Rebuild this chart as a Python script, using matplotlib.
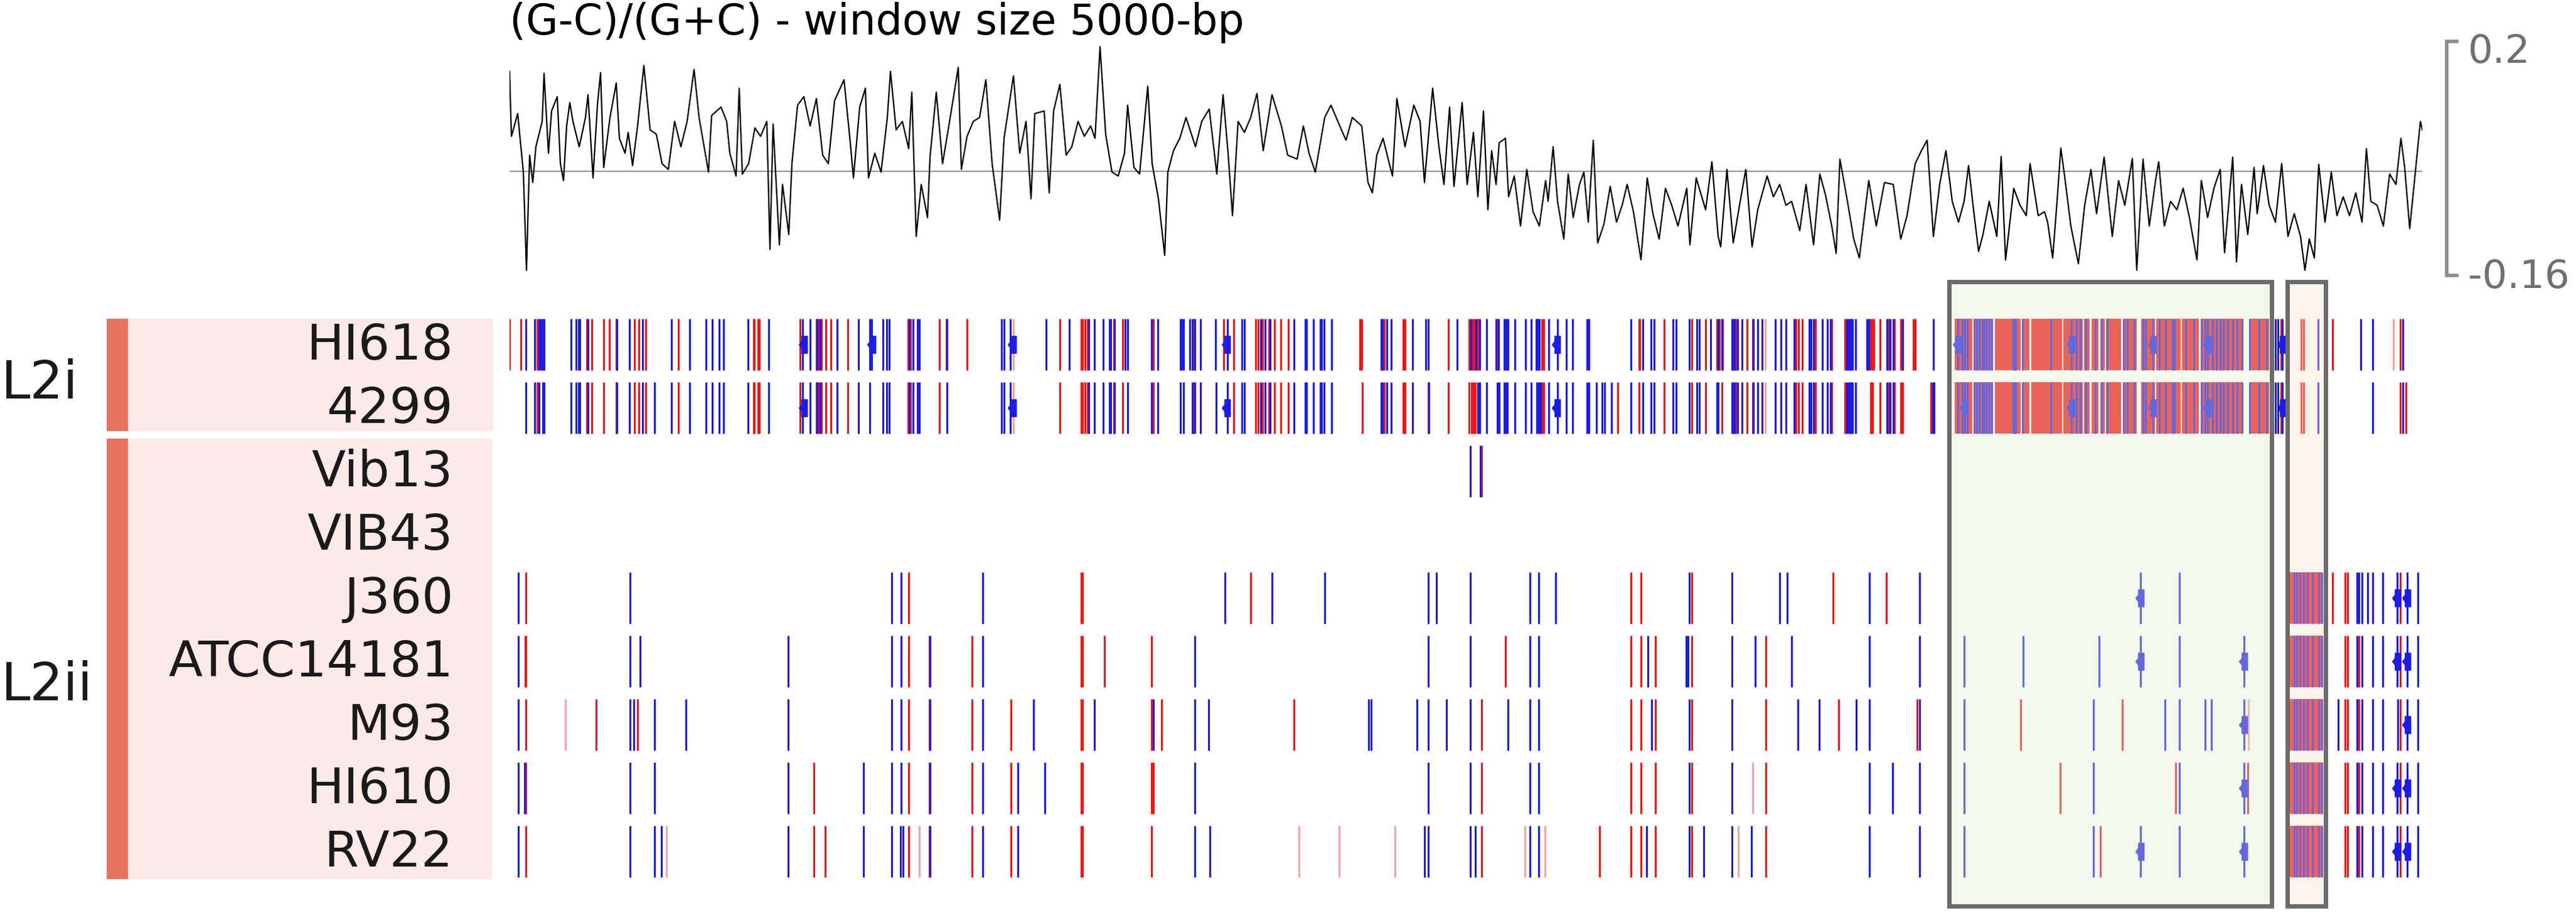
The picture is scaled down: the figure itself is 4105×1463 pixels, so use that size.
import matplotlib
matplotlib.use("Agg")
import matplotlib.pyplot as plt
from matplotlib.patches import Rectangle

# positions along the chromosome, arbitrary kb-like units (0 .. GENOME_LEN)
GENOME_LEN = 3048

# (G-C)/(G+C) skew
skew_pos = [0, 3, 13, 22, 27, 32, 37, 42, 52, 55, 62, 67, 76, 81, 86, 91, 96, 101, 111, 121,
            125, 133, 140, 145, 150, 160, 170, 175, 184, 189, 196, 204, 214, 224, 234, 243, 253, 263, 273, 283,
            294, 302, 317, 322, 337, 346, 351, 361, 366, 371, 381, 391, 400, 410, 415, 420, 430, 435, 445, 450,
            459, 469, 479, 489, 499, 508, 518, 533, 543, 548, 558, 567, 572, 582, 592, 602, 607, 616, 626, 636,
            641, 648, 656, 666, 670, 680, 690, 700, 715, 720, 729, 739, 749, 759, 769, 781, 788, 803, 813, 823,
            831, 837, 852, 860, 867, 877, 887, 896, 906, 916, 926, 933, 941, 950, 960, 970, 980, 985, 995, 1004,
            1017, 1024, 1034, 1044, 1049, 1058, 1068, 1078, 1093, 1103, 1115, 1127, 1137, 1145, 1152, 1161, 1171, 1181, 1191, 1201,
            1215, 1230, 1240, 1255, 1265, 1274, 1284, 1299, 1309, 1323, 1333, 1343, 1358, 1368, 1375, 1382, 1392, 1402, 1407, 1414,
            1427, 1441, 1451, 1458, 1471, 1481, 1489, 1498, 1505,
            1518, 1526, 1536, 1543, 1552, 1559, 1565, 1572, 1577, 1587, 1592, 1601, 1611, 1621, 1631, 1641, 1651, 1655, 1663, 1670,
            1680, 1687, 1695, 1705, 1712, 1719, 1727, 1734, 1744, 1754, 1764, 1773, 1781, 1791, 1803, 1813, 1822, 1832, 1842, 1852,
            1862, 1876, 1881, 1891, 1906, 1916, 1926, 1930, 1940, 1950, 1960, 1970, 1980, 1989, 2004, 2014, 2024, 2034, 2043, 2056,
            2066, 2078, 2088, 2097, 2107, 2114, 2120, 2132, 2142, 2151, 2166, 2178, 2191, 2205, 2217, 2227, 2240, 2250, 2259, 2269,
            2279, 2289, 2299, 2309, 2318, 2325, 2333, 2341, 2348, 2358, 2370, 2377, 2384, 2397, 2407, 2417, 2423, 2436, 2446, 2451,
            2459, 2466, 2472, 2478, 2488, 2500, 2510, 2520, 2529, 2541, 2554, 2564, 2574, 2586, 2593, 2603, 2613, 2623, 2628, 2637,
            2647, 2657, 2667, 2677, 2689, 2696, 2706, 2716, 2726, 2733, 2746, 2752, 2760, 2770, 2780, 2785, 2795, 2804, 2814, 2824,
            2834, 2844, 2854, 2861, 2868, 2876, 2883, 2893, 2903, 2912, 2922, 2932, 2942, 2952, 2959, 2966, 2976, 2986, 2996, 3006,
            3014, 3020, 3028, 3035, 3045, 3048]
skew_val = [0.154, 0.054, 0.089, -0.001, -0.152, 0.025, -0.017, 0.038, 0.077, 0.151,
            0.028, 0.093, 0.115, 0.012, -0.014, 0.070, 0.106, 0.077, 0.038, 0.083,
            0.118, -0.010, 0.102, 0.152, 0.006, 0.083, 0.136, 0.051, 0.028, 0.060,
            0.009, 0.070, 0.163, 0.064, 0.057, 0.012, 0.003, 0.077, 0.038, 0.077,
            0.157, 0.083, -0.001, 0.086, 0.099, 0.077, 0.028, -0.007, 0.128, -0.004,
            0.012, 0.067, 0.054, 0.077, -0.120, 0.073, -0.113, -0.020, -0.097, 0.012,
            0.102, 0.115, 0.070, 0.112, 0.025, 0.012, 0.109, 0.141, 0.044, -0.010,
            0.099, 0.128, -0.010, 0.028, -0.001, 0.083, 0.154, 0.064, 0.077, 0.035,
            0.122, -0.100, -0.020, -0.071, 0.022, 0.122, 0.012, 0.070, 0.160, 0.003,
            0.054, 0.077, 0.083, 0.141, 0.012, -0.075, 0.051, 0.147, 0.028, 0.077,
            -0.042, 0.089, 0.093, -0.033, 0.093, 0.134, 0.025, 0.038, 0.077, 0.054,
            0.070, 0.051, 0.192, 0.057, -0.001, -0.007, 0.028, 0.102, 0.006, -0.004,
            0.131, 0.012, -0.042, -0.129, -0.001, 0.032, 0.051, 0.083, 0.038, 0.077,
            0.096, -0.004, 0.118, 0.028, -0.068, 0.077, 0.060, 0.083, 0.120, 0.032,
            0.118, 0.070, 0.025, 0.019, 0.070, 0.028, -0.001, 0.083, 0.102, 0.070,
            0.048, 0.083, 0.070, -0.017, -0.033, 0.025, 0.051, 0.012, -0.007, 0.112,
            0.038, 0.102, 0.077, -0.017, 0.128, 0.038, -0.020, 0.099, -0.023,
            0.106, -0.020, 0.060, -0.039, 0.093, -0.059, 0.032, -0.020, 0.044, 0.051,
            -0.039, -0.007, -0.084, 0.003, -0.062, -0.084, -0.014, -0.046, 0.038, -0.046,
            -0.104, -0.004, -0.071, -0.020, -0.001, -0.078, 0.048, -0.110, -0.081, -0.023,
            -0.078, -0.052, -0.020, -0.062, -0.136, -0.010, -0.065, -0.104, -0.026, -0.052,
            -0.084, -0.026, -0.113, -0.010, -0.059, 0.015, -0.100, -0.116, 0.003, -0.110,
            -0.052, 0.003, -0.116, -0.059, -0.007, -0.039, -0.020, -0.052, -0.046, -0.091,
            -0.020, -0.113, -0.004, -0.036, -0.084, -0.126, 0.019, -0.046, -0.104, -0.133,
            -0.014, -0.084, -0.017, -0.020, -0.104, -0.068, 0.012, 0.032, 0.048, -0.100,
            -0.020, 0.032, -0.046, -0.078, -0.046, 0.009, -0.059, -0.123, -0.097, -0.046,
            -0.100, 0.023, -0.136, -0.026, -0.052, -0.068, 0.012, -0.068, -0.062, -0.078,
            -0.133, -0.046, 0.036, -0.007, -0.084, -0.142, -0.052, 0.003, -0.065, 0.022,
            -0.100, -0.014, -0.052, 0.020, -0.152, 0.019, -0.084, -0.014, 0.015, -0.084,
            -0.046, -0.059, -0.026, -0.071, -0.136, -0.014, -0.071, -0.026, 0.003, -0.125,
            0.022, -0.139, -0.020, -0.097, 0.006, -0.065, 0.009, -0.052, -0.078, 0.012,
            -0.100, -0.065, -0.100, -0.152, -0.104, -0.133, 0.011, -0.078, -0.001, -0.068,
            -0.039, -0.068, -0.033, -0.078, 0.035, -0.046, -0.052, -0.084, -0.004, -0.020,
            0.051, 0.006, -0.088, -0.020, 0.077, 0.064]

strains = ['HI618', '4299', 'Vib13', 'VIB43', 'J360', 'ATCC14181', 'M93', 'HI610', 'RV22']
groups = [('L2i', 0, 1), ('L2ii', 2, 8)]

# highlighted regions (start, end)
green_region = (2294, 2808)
orange_region = (2833, 2894)

# dense red stretch shared by the two L2i strains inside the green region
l2i_dense_spans = [(2303, 2331), (2333, 2364), (2367, 2408), (2410, 2422), (2425, 2474), (2476, 2507),
                   (2509, 2518), (2521, 2532), (2535, 2542), (2544, 2568), (2571, 2593), (2600, 2622),
                   (2624, 2663), (2665, 2692), (2695, 2762), (2772, 2804)]
l2i_dense_blue = [2295, 2315, 2323, 2334, 2338, 2342, 2347, 2350, 2354, 2358, 2362, 2396, 2398, 2400,
                  2411, 2456, 2489, 2497, 2503, 2512, 2527, 2537, 2546, 2572, 2578, 2589, 2603, 2607,
                  2619, 2629, 2639, 2650, 2653, 2671, 2684, 2696, 2702, 2706, 2714, 2720, 2726, 2731,
                  2738, 2746, 2753, 2761, 2773, 2788, 2800, 2814, 2818, 2825]
# mixed block of the L2ii strains inside the orange region
l2ii_block_spans = [(2834, 2889)]
l2ii_block_blue = [2835, 2844, 2848, 2853, 2859, 2865, 2873, 2883, 2888]

red_ticks = {
    'HI618': [0, 18, 44, 123, 131, 150, 159, 170, 199, 206, 217, 269, 389, 390, 396, 398, 463, 489, 492,
              497, 504, 512, 539, 635, 639, 685, 696, 729, 877, 911, 913, 917, 921, 963, 977, 1026, 1090,
              1138, 1154, 1189, 1193, 1200, 1210, 1219, 1229, 1241, 1355, 1358, 1394, 1424, 1427, 1496,
              1529, 1535, 1538, 1543, 1574, 1638, 1645, 1648, 1800, 1801, 1840, 1884, 1906, 1924, 1928,
              1933, 1954, 1972, 1981, 2050, 2054, 2060, 2081, 2107, 2128, 2137, 2169, 2172, 2174, 2184,
              2197, 2207, 2217, 2237, 2240, 2823, 2855, 2859, 2905, 3013],
    '4299': [44, 123, 131, 150, 170, 199, 206, 217, 269, 389, 390, 396, 398, 463, 489, 492, 497, 504, 512,
             539, 635, 639, 685, 877, 911, 913, 917, 921, 963, 977, 1026, 1090, 1154, 1189, 1193, 1200,
             1210, 1219, 1229, 1241, 1359, 1394, 1424, 1427, 1464, 1496, 1529, 1533, 1536, 1539, 1645,
             1648, 1766, 1800, 1840, 1884, 1906, 1932, 1954, 1972, 1981, 2050, 2054, 2060, 2081, 2107,
             2128, 2137, 2169, 2170, 2172, 2184, 2197, 2207, 2217, 2220, 2265, 2823, 2855, 2859, 3013, 3022],
    'Vib13': [1549],
    'VIB43': [],
    'J360': [26, 636, 911, 913, 1181, 1787, 1803, 1884, 2109, 2194, 2905, 2925, 2929, 3013],
    'ATCC14181': [25, 26, 636, 669, 737, 911, 913, 948, 1023, 1587, 1787, 1803, 1826, 1884, 2002,
                  2925, 2929, 2947, 3013],
    'M93': [26, 138, 204, 636, 669, 737, 799, 911, 913, 1023, 1039, 1250, 1549, 1787, 1803, 1826, 1884,
            2002, 2118, 2243, 2408, 2570, 2925, 2929, 2947, 3013],
    'HI610': [26, 485, 636, 669, 737, 799, 911, 913, 1023, 1026, 1549, 1787, 1803, 1826, 1884, 2002,
              2471, 2655, 2770, 2925, 2929, 2947, 3013],
    'RV22': [26, 485, 503, 636, 669, 737, 799, 911, 913, 1023, 1549, 1737, 1787, 1803, 1826, 1884, 2002,
             2535, 2925, 2929, 2947, 3013],
}

pale_ticks = {
    'HI618': [803, 2001, 3002],
    '4299': [803, 2001],
    'M93': [89, 2771],
    'HI610': [1981],
    'RV22': [250, 653, 1258, 1322, 1411, 1618, 1650, 1958],
}

blue_ticks = {
    'HI618': [26, 40, 47, 50, 53, 55, 98, 106, 110, 112, 125, 171, 191, 212, 258, 287, 313, 323, 334, 341,
              380, 413, 467, 479, 490, 495, 522, 556, 574, 577, 595, 601, 605, 637, 643, 650, 653, 697,
              784, 788, 798, 855, 892, 923, 932, 946, 956, 958, 964, 981, 985, 1023, 1033, 1069, 1071,
              1074, 1084, 1088, 1092, 1101, 1125, 1144, 1167, 1171, 1197, 1204, 1212, 1250, 1268, 1270,
              1281, 1292, 1294, 1298, 1310, 1389, 1391, 1398, 1405, 1439, 1460, 1464, 1510,
              1532, 1540, 1546, 1557, 1572, 1576, 1585, 1587, 1589, 1591, 1602, 1619, 1628, 1636, 1638,
              1641, 1656, 1670, 1684, 1694, 1717, 1720, 1787, 1806, 1819, 1824, 1854, 1859, 1880, 1892,
              1896, 1914, 1926, 1932, 1948, 1950, 1952, 1957, 1964, 1982, 1989, 1996, 2017, 2026, 2034,
              2047, 2071, 2074, 2078, 2092, 2100, 2105, 2131, 2134, 2137, 2140, 2145, 2163, 2166, 2195,
              2200, 2205, 2220, 2269, 2292, 2308, 2319, 2882, 2950, 2969, 3017],
    '4299': [26, 40, 47, 53, 55, 98, 106, 110, 112, 125, 171, 191, 212, 231, 258, 287, 313, 323, 334, 341,
             380, 413, 467, 479, 490, 495, 522, 556, 574, 595, 601, 605, 637, 643, 650, 653, 697,
             784, 788, 798, 923, 932, 946, 956, 958, 964, 985, 1023, 1033, 1069, 1074, 1088, 1092, 1101,
             1126, 1144, 1167, 1171, 1197, 1204, 1212, 1250, 1268, 1270, 1281, 1292, 1294, 1298, 1310,
             1389, 1391, 1398, 1405, 1439, 1465, 1543, 1546, 1557, 1574, 1577, 1585, 1587, 1590, 1602,
             1619, 1628, 1637, 1640, 1643, 1656, 1670, 1684, 1694, 1717, 1720, 1732, 1741, 1745, 1756,
             1787, 1806, 1819, 1824, 1854, 1859, 1880, 1892, 1896, 1924, 1926, 1948, 1950, 1952, 1957,
             1964, 1982, 1989, 1996, 2017, 2026, 2034, 2047, 2071, 2074, 2078, 2092, 2100, 2105, 2131,
             2134, 2137, 2140, 2145, 2195, 2200, 2205, 2268, 2270, 2292, 2308, 2319, 2882, 2969, 3017],
    'Vib13': [1531, 1547],
    'VIB43': [],
    'J360': [14, 192, 609, 624, 754, 1140, 1215, 1299, 1464, 1477, 1531, 1626, 1640, 1667, 1880, 1948,
             2024, 2036, 2167, 2247, 2599, 2661, 2944, 2947, 2952, 2961, 2969, 2985, 3008, 3024, 3041],
    'ATCC14181': [14, 192, 208, 444, 609, 624, 670, 754, 1092, 1464, 1531, 1626, 1640, 1814, 1875, 1878,
                  1948, 1985, 2043, 2167, 2247, 2318, 2412, 2533, 2599, 2661, 2764, 2944, 2952, 2969,
                  2985, 3008, 3024, 3041],
    'M93': [14, 192, 198, 231, 281, 444, 609, 624, 670, 754, 835, 932, 1026, 1092, 1114, 1369, 1373,
            1446, 1464, 1493, 1531, 1591, 1626, 1640, 1820, 1880, 1948, 2053, 2087, 2146, 2167, 2247,
            2318, 2524, 2638, 2661, 2702, 2712, 2764, 2914, 2944, 2952, 2969, 2985, 3009, 3024, 3041],
    'HI610': [14, 24, 192, 231, 444, 564, 609, 624, 670, 754, 810, 853, 1092, 1464, 1531, 1626, 1640,
              1880, 1948, 2167, 2204, 2247, 2318, 2524, 2661, 2764, 2944, 2952, 2969, 2985, 3008, 3024, 3041],
    'RV22': [14, 192, 231, 242, 444, 564, 609, 623, 627, 670, 754, 810, 1092, 1116, 1458, 1464, 1531,
             1539, 1626, 1640, 1812, 1880, 1903, 1948, 1979, 2167, 2247, 2318, 2524, 2599, 2661, 2764,
             2944, 2952, 2969, 2985, 3008, 3024, 3041],
}

# small arrow-like markers sitting on some features
blobs = {
    'HI618': [469, 578, 802, 1143, 1669, 2308, 2489, 2619, 2706, 2825],
    '4299': [469, 802, 1143, 1669, 2319, 2489, 2619, 2706, 2825],
    'J360': [2599, 3008, 3024],
    'ATCC14181': [2599, 2764, 3008, 3024],
    'M93': [2764, 3024],
    'HI610': [2764, 3008, 3024],
    'RV22': [2599, 2764, 3008, 3024],
}

RED = '#f01515'
BLUE = '#1c1ce8'
PALE = '#f5a3a3'

W, H = 4105, 1463


def fx(px):
    return px / W


def fy(py):
    return 1 - py / H


fig = plt.figure(figsize=(W / 100, H / 100), dpi=100)

# background axes in pixel units for the label panels
ax_bg = fig.add_axes([0, 0, 1, 1])
ax_bg.set_xlim(0, W)
ax_bg.set_ylim(H, 0)
ax_bg.axis('off')

ax_bg.add_patch(Rectangle((170, 508), 34, 179, color='#e5735f', lw=0))
ax_bg.add_patch(Rectangle((204, 508), 582, 179, color='#fbeae8', lw=0))
ax_bg.add_patch(Rectangle((170, 699), 34, 702, color='#e5735f', lw=0))
ax_bg.add_patch(Rectangle((204, 699), 580, 702, color='#fbeae8', lw=0))

row_y0, row_step = 549, 101
for i, name in enumerate(strains):
    ax_bg.text(722, row_y0 + row_step * i + 24, name, ha='right', va='baseline',
               fontsize=57, color='#1a1a1a')
ax_bg.text(2, 635, 'L2i', ha='left', va='baseline', fontsize=60, color='#1a1a1a')
ax_bg.text(2, 1116, 'L2ii', ha='left', va='baseline', fontsize=60, color='#1a1a1a')

fig.text(fx(812), fy(55), '(G-C)/(G+C) - window size 5000-bp', fontsize=48,
         ha='left', va='baseline', color='black')

# skew panel
ax_sk = fig.add_axes([fx(812), fy(439), fx(3860) - fx(812), fy(66) - fy(439)])
ax_sk.set_xlim(0, GENOME_LEN)
ax_sk.set_ylim(-0.16, 0.2)
ax_sk.axis('off')
ax_sk.axhline(0, color='#9a9a9a', lw=1.6, zorder=1)
ax_sk.plot(skew_pos, skew_val, color='black', lw=1.6, zorder=2)

# scale bar on the right
ax_sk.plot([3103, 3087, 3087, 3103], [0.2, 0.2, -0.16, -0.16], color='#8c8c8c', lw=4,
           clip_on=False, solid_joinstyle='miter')
ax_sk.text(3121, 0.167, '0.2', ha='left', va='baseline', fontsize=45, color='#707070', clip_on=False)
ax_sk.text(3121, -0.179, '-0.16', ha='left', va='baseline', fontsize=45, color='#707070', clip_on=False)

# track panel, y in row units
ax_tr = fig.add_axes([fx(812), fy(1452), fx(3860) - fx(812), fy(440) - fy(1452)])
ax_tr.set_xlim(0, GENOME_LEN)
ax_tr.set_ylim(8.941, -1.079)
ax_tr.axis('off')

blob_marker = [(-0.6, 0), (-0.3, 0.4), (-0.3, 1), (0.4, 1), (0.4, -1), (-0.3, -1), (-0.3, -0.4), (-0.6, 0)]
half = 0.405
for i, name in enumerate(strains):
    spans = []
    extra_blue = []
    if name in ('HI618', '4299'):
        spans = l2i_dense_spans
        extra_blue = l2i_dense_blue
    elif i >= 4:
        spans = l2ii_block_spans
        extra_blue = l2ii_block_blue
    if spans:
        ax_tr.broken_barh([(a, b - a) for a, b in spans], (i - half, 2 * half), facecolors=RED, zorder=2)
    ax_tr.vlines(pale_ticks.get(name, []), i - half, i + half, color=PALE, lw=2.2, zorder=2)
    ax_tr.vlines(red_ticks[name], i - half, i + half, color=RED, lw=2.2, zorder=3)
    ax_tr.vlines(blue_ticks[name] + extra_blue, i - half, i + half, color=BLUE, lw=2.2, zorder=4)
    b = blobs.get(name, [])
    if b:
        ax_tr.plot(b, [i] * len(b), ls='none', marker=blob_marker, ms=20, color=BLUE,
                   mec=BLUE, mew=0.5, zorder=5)

# translucent highlight boxes drawn over the tracks
ax_tr.add_patch(Rectangle((green_region[0], -0.99), green_region[1] - green_region[0], 9.85,
                          facecolor=(220 / 255, 237 / 255, 205 / 255, 0.37), edgecolor='#6b6b6b',
                          lw=5, zorder=6, clip_on=False))
ax_tr.add_patch(Rectangle((orange_region[0], -0.99), orange_region[1] - orange_region[0], 9.85,
                          facecolor=(249 / 255, 225 / 255, 201 / 255, 0.37), edgecolor='#6b6b6b',
                          lw=5, zorder=6, clip_on=False))

fig.savefig('out.png', dpi=100)
